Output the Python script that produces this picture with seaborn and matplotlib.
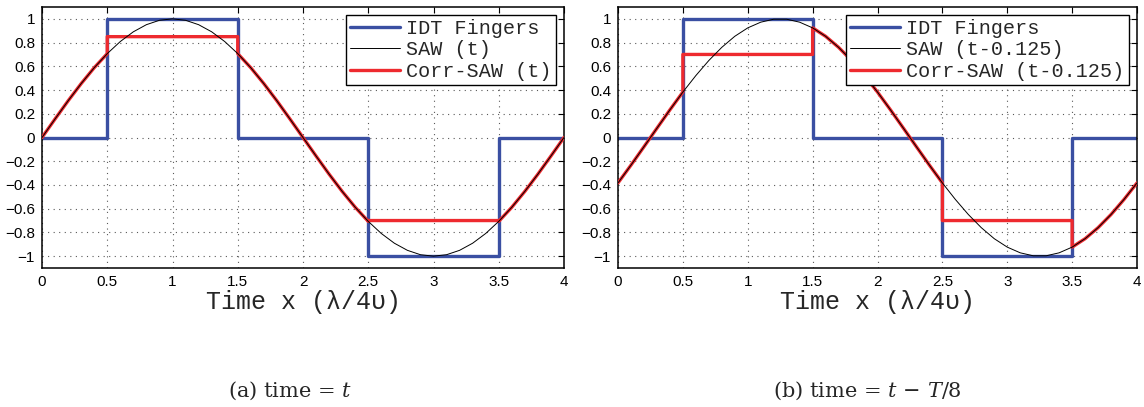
import numpy as np
import pandas as pd
import seaborn as sns
import matplotlib.pyplot as plt
from matplotlib.ticker import FuncFormatter

# sample grid along the delay line (units of lambda/4v)
time_x = np.round(np.arange(41) * 0.1, 1)

# SAW, peak at x = 1
saw_a = [0.0, 0.156, 0.309, 0.454, 0.588, 0.707, 0.809, 0.891, 0.951, 0.988,
         1.0, 0.988, 0.951, 0.891, 0.809, 0.707, 0.588, 0.454, 0.309, 0.156,
         0.0, -0.156, -0.309, -0.454, -0.588, -0.707, -0.809, -0.891, -0.951, -0.988,
         -1.0, -0.988, -0.951, -0.891, -0.809, -0.707, -0.588, -0.454, -0.309, -0.156,
         0.0]

# SAW, peak shifted to x = 1.25
saw_b = [-0.383, -0.233, -0.078, 0.078, 0.233, 0.383, 0.522, 0.649, 0.760, 0.853,
         0.924, 0.972, 0.997, 0.997, 0.972, 0.924, 0.853, 0.760, 0.649, 0.522,
         0.383, 0.233, 0.078, -0.078, -0.233, -0.383, -0.522, -0.649, -0.760, -0.853,
         -0.924, -0.972, -0.997, -0.997, -0.972, -0.924, -0.853, -0.760, -0.649, -0.522,
         -0.383]

# IDT fingers (step function)
finger_edges = [0, 0.5, 1.5, 2.5, 3.5, 4]
finger_levels = [0, 1, 0, -1, 0, 0]

# electrode spans and the flattened level of the corrected SAW under them
finger_spans = [(0.5, 1.5), (2.5, 3.5)]
corr_levels_a = [0.85, -0.7]
corr_levels_b = [0.7, -0.7]

labels_a = ["IDT Fingers", "SAW (t)", "Corr-SAW (t)"]
labels_b = ["IDT Fingers", "SAW (t-0.125)", "Corr-SAW (t-0.125)"]
captions = ["(a) time = $t$", "(b) time = $t\\,-\\,T/8$"]

BLUE = "#3a4fa2"
RED = "#ee2a2f"
MONO = ["Liberation Mono", "DejaVu Sans Mono"]
SERIF = ["DejaVu Serif", "Liberation Serif"]


def corr_curve(x, saw, levels):
    """ Corrected SAW: follows the SAW outside the fingers, flat under them """
    cx, cy = [], []
    for xi, yi in zip(x, saw):
        done = False
        for (lo, hi), lv in zip(finger_spans, levels):
            if np.isclose(xi, lo):
                cx += [xi, xi]; cy += [yi, lv]; done = True
            elif np.isclose(xi, hi):
                cx += [xi, xi]; cy += [lv, yi]; done = True
            elif lo < xi < hi:
                cx.append(xi); cy.append(lv); done = True
        if not done:
            cx.append(xi); cy.append(yi)
    return pd.DataFrame({"x": cx, "y": cy})


def tick_fmt(v, p):
    v = round(v, 2) + 0.0
    if abs(v) < 1e-9:
        return "0"
    return ("%g" % v).replace("-", "\u2212")


def panel(ax, saw, levels, labels, legend_x):
    sns.lineplot(x=finger_edges, y=finger_levels, ax=ax, color=BLUE, lw=2.4,
                 drawstyle="steps-post", sort=False, estimator=None,
                 label=labels[0], zorder=2)
    corr = corr_curve(time_x, saw, levels)
    sns.lineplot(x=time_x, y=saw, ax=ax, color="black", lw=0.7,
                 sort=False, estimator=None, label=labels[1], zorder=4)
    sns.lineplot(data=corr, x="x", y="y", ax=ax, color=RED, lw=2.4,
                 sort=False, estimator=None, label=labels[2], zorder=3)

    ax.set_xlim(0, 4)
    ax.set_ylim(-1.1, 1.1)
    ax.set_xticks(np.arange(0, 4.01, 0.5))
    ax.set_yticks(np.round(np.arange(-1, 1.01, 0.2), 1))
    ax.xaxis.set_major_formatter(FuncFormatter(tick_fmt))
    ax.yaxis.set_major_formatter(FuncFormatter(tick_fmt))
    ax.tick_params(direction="in", top=True, right=True, length=4, width=0.8,
                   labelsize=11, pad=5, colors="black")
    ax.grid(True, linestyle=(0, (1, 4)), color="0.35", linewidth=0.8)
    for s in ax.spines.values():
        s.set_color("black")
        s.set_linewidth(1.1)

    ax.set_xlabel("Time x (\u03bb/4\u03c5)", family=MONO, fontsize=18, labelpad=1)
    ax.set_ylabel("")

    leg = ax.legend(loc="upper left", bbox_to_anchor=(legend_x, 1 - 15 / 407),
                    bbox_transform=ax.figure.transFigure, borderaxespad=0,
                    prop={"family": MONO, "size": 14.5}, handlelength=2.5,
                    handletextpad=0.3, labelspacing=0.12, borderpad=0.2,
                    fancybox=False, framealpha=1, edgecolor="black")
    leg.get_frame().set_linewidth(1.0)


sns.set_theme(style="white")
plt.rcParams["font.family"] = ["Liberation Sans", "DejaVu Sans"]
plt.rcParams["mathtext.fontset"] = "dejavuserif"

fig = plt.figure(figsize=(11.44, 4.07), dpi=100)
ax_a = fig.add_axes([42 / 1144, 139 / 407, 522 / 1144, 261 / 407])
ax_b = fig.add_axes([618 / 1144, 139 / 407, 519 / 1144, 261 / 407])

panel(ax_a, saw_a, corr_levels_a, labels_a, 346 / 1144)
panel(ax_b, saw_b, corr_levels_b, labels_b, 846 / 1144)

fig.text(290 / 1144, 1 - 391 / 407, captions[0], ha="center", va="center",
         family=SERIF, fontsize=15)
fig.text(867 / 1144, 1 - 391 / 407, captions[1], ha="center", va="center",
         family=SERIF, fontsize=15)

fig.savefig("out.png", dpi=100, facecolor="white")
